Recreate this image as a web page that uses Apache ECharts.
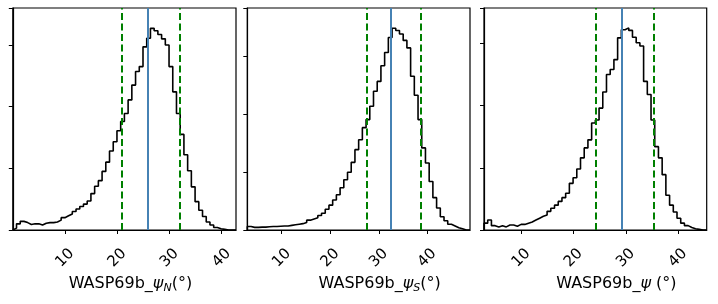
<!DOCTYPE html>
<html><head><meta charset="utf-8">
<script src="https://cdn.jsdelivr.net/npm/echarts@6/dist/echarts.min.js"></script>
<style>html,body{margin:0;padding:0;background:#fff}#c{width:718px;height:304px}</style>
</head><body><div id="c"></div>
<script>
// ---- data (heights in arbitrary units, y tick spacing = 1) ----
const tickValues = [10, 20, 30, 40];

const histN = [0.03,0.10,0.14,0.12,0.09,0.10,0.10,0.08,0.11,0.12,
               0.12,0.13,0.16,0.20,0.23,0.26,0.30,0.34,0.38,0.42,
               0.47,0.59,0.71,0.80,0.95,1.10,1.28,1.43,1.61,1.76,
               1.89,2.11,2.35,2.57,2.65,2.97,3.11,3.27,3.23,3.17,
               3.10,3.00,2.65,2.24,1.89,1.55,1.22,0.96,0.70,0.46,
               0.32,0.22,0.13,0.08,0.04,0.02,0.01,0,0,0];
const rangeN = [0.0, 42.75];
const truthN = 25.8;
const quantN = [20.9, 31.9];
const yMaxN = 3.60;

const histS = [0.06,0.045,0.045,0.05,0.05,0.055,0.06,0.06,0.065,0.07,
               0.07,0.08,0.09,0.10,0.11,0.13,0.17,0.19,0.21,0.25,
               0.29,0.36,0.43,0.52,0.61,0.73,0.87,1.00,1.17,1.39,
               1.56,1.77,1.91,2.14,2.40,2.57,2.84,3.07,3.33,3.49,
               3.45,3.39,3.28,3.15,2.66,2.33,1.91,1.42,1.16,0.84,
               0.56,0.38,0.23,0.16,0.10,0.07,0.04,0.02,0,0];
const rangeS = [2.9, 48.8];
const truthS = 32.5;
const quantS = [27.5, 38.6];
const yMaxS = 3.84;

const histP = [0.11,0.16,0.07,0.05,0.07,0.05,0.08,0.08,0.06,0.09,
               0.09,0.11,0.13,0.16,0.19,0.22,0.24,0.30,0.35,0.40,
               0.46,0.52,0.59,0.75,0.84,0.98,1.16,1.32,1.45,1.72,
               1.77,1.96,2.22,2.50,2.58,2.74,3.09,3.22,3.25,3.21,
               3.10,3.01,2.96,2.39,2.18,1.77,1.34,1.16,0.89,0.56,
               0.40,0.29,0.19,0.11,0.07,0.04,0.02,0.01,0,0];
const rangeP = [2.85, 45.5];
const truthP = 29.2;
const quantP = [24.2, 35.3];
const yMaxP = 3.57;

// ---- build ----
function stepData(h, range) {
  const n = h.length, w = (range[1] - range[0]) / n;
  const d = [[range[0], 0]];
  for (let k = 0; k < n; k++) d.push([range[0] + k * w, h[k]]);
  d.push([range[1], h[n - 1]]);
  d.push([range[1], 0]);
  return d;
}

const panels = [
  {h: histN, r: rangeN, t: truthN, q: quantN, ym: yMaxN, left: 12.8, width: 223.2,
   name: 'WASP69b_{psi|ψ}{sub|N}(°)', shift: 12},
  {h: histS, r: rangeS, t: truthS, q: quantS, ym: yMaxS, left: 247.3, width: 222.7,
   name: 'WASP69b_{psi|ψ}{sub|S}(°)', shift: 42},
  {h: histP, r: rangeP, t: truthP, q: quantP, ym: yMaxP, left: 484, width: 222.7,
   name: 'WASP69b_{psi|ψ} (°)', shift: 42}
];

const FONT = 'DejaVu Sans';
const grids = [], xAxes = [], yAxes = [], series = [];
panels.forEach((p, i) => {
  grids.push({left: p.left, top: 8, width: p.width, height: 222,
              show: true, borderColor: '#000', borderWidth: 1.2, backgroundColor: 'transparent'});
  xAxes.push({
    type: 'value', gridIndex: i, min: p.r[0], max: p.r[1],
    splitLine: {show: false},
    axisLine: {show: true, onZero: false, lineStyle: {color: '#000', width: 1.2}},
    axisTick: {show: true, customValues: tickValues, length: 4, lineStyle: {color: '#000', width: 1}},
    axisLabel: {show: true, customValues: tickValues, rotate: 45, align: 'center', verticalAlign: 'middle',
                margin: 28, color: '#000', fontFamily: FONT, fontSize: 15},
    name: p.name, nameLocation: 'middle', nameGap: 44, nameMoveOverlap: false,
    nameTextStyle: {color: '#000', fontFamily: FONT, fontSize: 16, padding: [0, 0, 0, p.shift],
      rich: {
        psi: {fontFamily: FONT, fontSize: 16, fontStyle: 'italic', color: '#000', lineHeight: 20},
        sub: {fontFamily: FONT, fontSize: 11, fontStyle: 'italic', color: '#000', lineHeight: 20, verticalAlign: 'bottom'}
      }}
  });
  yAxes.push({
    type: 'value', gridIndex: i, min: 0, max: p.ym, interval: 1,
    splitLine: {show: false},
    axisLine: {show: true, lineStyle: {color: '#000', width: 1.2}},
    axisTick: {show: true, length: 4, lineStyle: {color: '#000', width: 1}},
    axisLabel: {show: false}
  });
  series.push({
    type: 'line', xAxisIndex: i, yAxisIndex: i, step: 'end', symbol: 'none',
    data: stepData(p.h, p.r), lineStyle: {color: '#000', width: 1.6}, z: 3,
    markLine: {
      silent: true, symbol: ['none', 'none'], label: {show: false}, animation: false,
      data: [
        {xAxis: p.q[0], lineStyle: {color: '#008000', width: 2, type: [7, 3.5]}},
        {xAxis: p.q[1], lineStyle: {color: '#008000', width: 2, type: [7, 3.5]}},
        {xAxis: p.t, lineStyle: {color: '#4682b4', width: 2, type: 'solid'}}
      ]
    }
  });
});

const chart = echarts.init(document.getElementById('c'), null, {renderer: 'canvas'});
chart.setOption({animation: false, backgroundColor: '#fff', grid: grids, xAxis: xAxes, yAxis: yAxes, series: series});
</script></body></html>
